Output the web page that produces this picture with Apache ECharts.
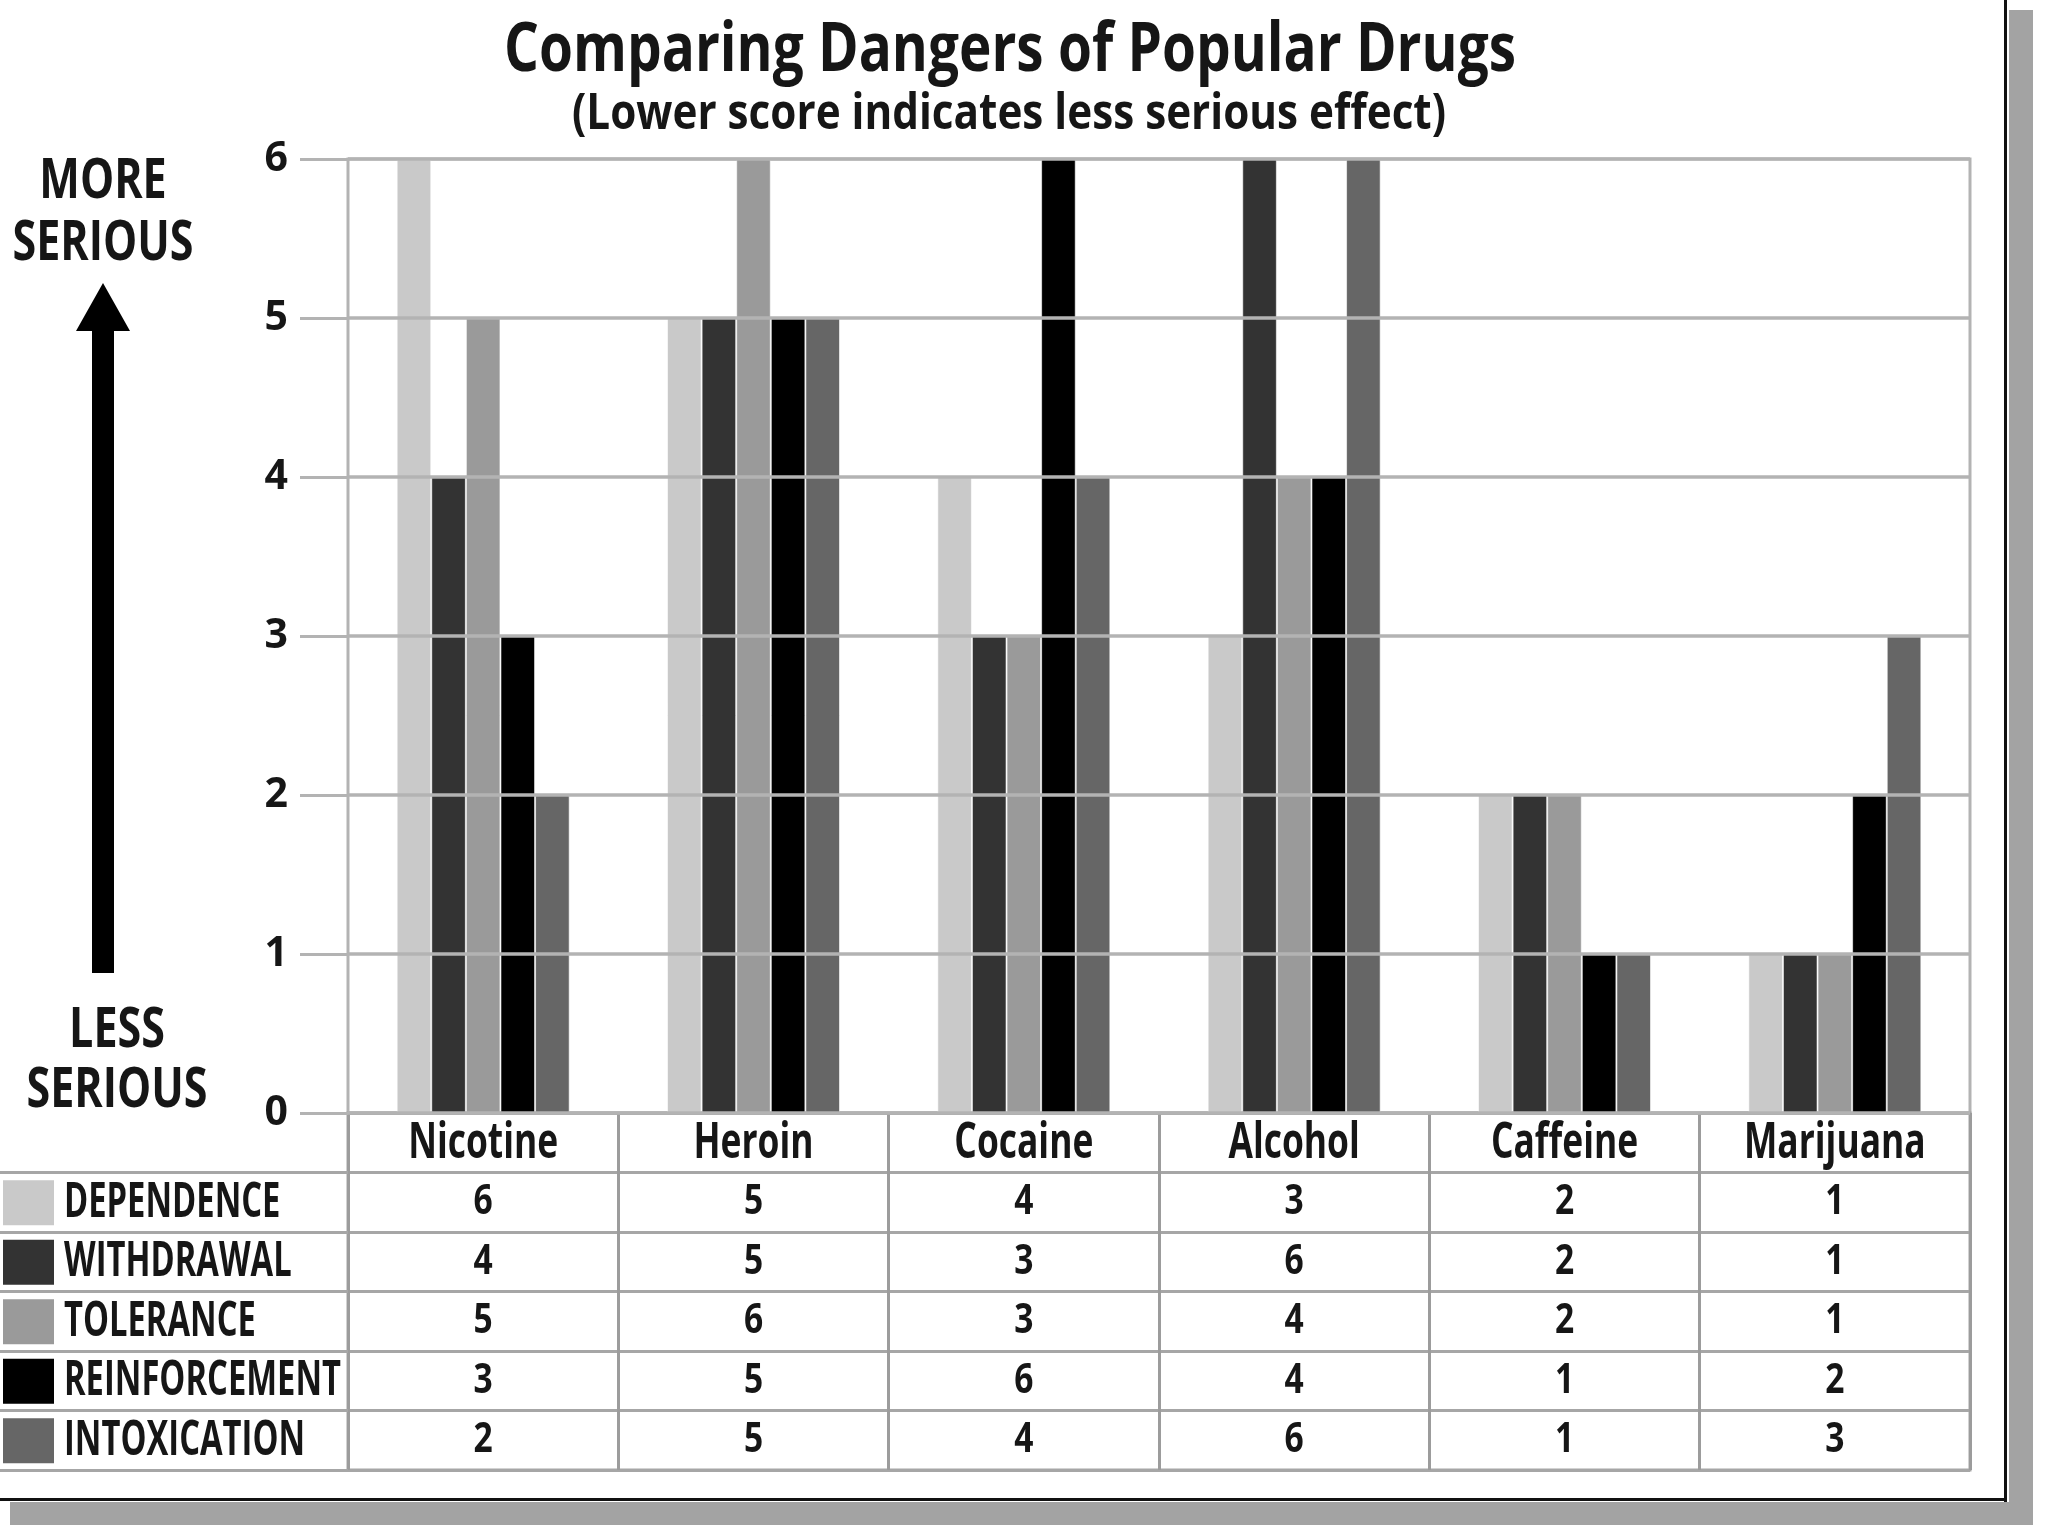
<!DOCTYPE html>
<html>
<head>
<meta charset="utf-8">
<script src="https://cdn.jsdelivr.net/npm/echarts@6/dist/echarts.min.js"></script>
<style>
html,body{margin:0;padding:0;background:#fff;}
#chart{width:2048px;height:1536px;}
</style>
</head>
<body>
<div id="chart"></div>
<script>
// ---- data ----
const categories = ['Nicotine', 'Heroin', 'Cocaine', 'Alcohol', 'Caffeine', 'Marijuana'];
const metricNames = ['DEPENDENCE', 'WITHDRAWAL', 'TOLERANCE', 'REINFORCEMENT', 'INTOXICATION'];
const dependence    = [6, 5, 4, 3, 2, 1];
const withdrawal    = [4, 5, 3, 6, 2, 1];
const tolerance     = [5, 6, 3, 4, 2, 1];
const reinforcement = [3, 5, 6, 4, 1, 2];
const intoxication  = [2, 5, 4, 6, 1, 3];
const seriesValues = [dependence, withdrawal, tolerance, reinforcement, intoxication];
const metricColors = ['#c9c9c9', '#333333', '#9a9a9a', '#000000', '#666666'];
const titleText = 'Comparing Dangers of Popular Drugs';
const subtitleText = '(Lower score indicates less serious effect)';
const moreText = ['MORE', 'SERIOUS'];
const lessText = ['LESS', 'SERIOUS'];

// ---- styling ----
const FAM = "'Open Sans', 'DejaVu Sans', sans-serif";
const INK = '#161616';
const GRID_GRAY = '#b3b3b3';
const TABLE_GRAY = '#a6a6a6';
const TITLE_FONT = 'bold 68px ' + FAM;
const SUB_FONT = 'bold 51px ' + FAM;
const SIDE_FONT = 'bold 56px ' + FAM;
const HEAD_FONT = 'bold 50px ' + FAM;
const CELL_FONT = 'bold 42px ' + FAM;
const LEG_FONT = 'bold 48px ' + FAM;

const mctx = document.createElement('canvas').getContext('2d');
function textWidth(t, font) { mctx.font = font; return mctx.measureText(t).width; }
// horizontal condensing factors so the wide installed font mimics the condensed face
const titleScale = 1012 / textWidth(titleText, TITLE_FONT);
const subScale = 874 / textWidth(subtitleText, SUB_FONT);
const sideScale = 181 / textWidth('SERIOUS', SIDE_FONT);
const headScale = 150 / textWidth('Nicotine', HEAD_FONT);
const legScale = 277 / textWidth('REINFORCEMENT', LEG_FONT);
const cellScale = 0.8;

// ---- table cells built from the arrays ----
const cellData = [];
const cellText = [];
categories.forEach((c, i) => {
  cellData.push([i, 0]); cellText.push(c);
  seriesValues.forEach((arr, j) => {
    cellData.push([i, j + 1]); cellText.push(String(arr[i]));
  });
});
const legendData = metricNames.map((n, j) => [0, j + 1]);

function txt(x, y, text, font, sx) {
  return {
    type: 'text', x: x, y: y, scaleX: sx, silent: true,
    style: { text: text, font: font, fill: INK, textAlign: 'center', textVerticalAlign: 'middle', align: 'center', verticalAlign: 'middle' }
  };
}

const chart = echarts.init(document.getElementById('chart'), null, { renderer: 'canvas' });

const option = {
  backgroundColor: '#ffffff',
  animation: false,
  textStyle: { fontFamily: FAM, color: INK },
  grid: [
    { left: 348, right: 78, top: 159, bottom: 1536 - 1113, show: true, borderColor: GRID_GRAY, borderWidth: 3, backgroundColor: 'transparent' },
    { left: 348, right: 78, top: 1113, bottom: 1536 - 1470, show: true, borderColor: TABLE_GRAY, borderWidth: 3, backgroundColor: 'transparent' }
  ],
  xAxis: [
    {
      type: 'category', gridIndex: 0, data: categories,
      axisLabel: { show: false }, axisTick: { show: false },
      axisLine: { show: false }, splitLine: { show: false }
    },
    {
      type: 'category', gridIndex: 1, data: categories,
      axisLabel: { show: false }, axisTick: { show: false },
      axisLine: { show: false },
      splitLine: { show: true, interval: 0, lineStyle: { color: '#9c9c9c', width: 3 } }
    }
  ],
  yAxis: [
    {
      type: 'value', gridIndex: 0, min: 0, max: 6, interval: 1, z: 3,
      axisLine: { show: false },
      axisTick: { show: true, length: 48, lineStyle: { color: GRID_GRAY, width: 3 } },
      axisLabel: { fontSize: 41, fontWeight: 'bold', color: INK, margin: 60, fontFamily: FAM },
      splitLine: { show: true, lineStyle: { color: GRID_GRAY, width: 3.5 } }
    },
    {
      type: 'category', gridIndex: 1, inverse: true,
      data: [''].concat(metricNames),
      axisLine: { show: false },
      axisTick: {
        show: true, length: 348, lineStyle: { color: TABLE_GRAY, width: 3 },
        interval: function (index) { return index !== 0; }
      },
      splitLine: { show: true, interval: 0, lineStyle: { color: TABLE_GRAY, width: 3 } },
      axisLabel: { show: false }
    }
  ],
  series: metricNames.map((name, k) => ({
    name: name,
    type: 'bar',
    xAxisIndex: 0, yAxisIndex: 0,
    data: seriesValues[k],
    barGap: '0%',
    barCategoryGap: '36%',
    itemStyle: { color: metricColors[k], borderColor: 'rgba(255,255,255,0.6)', borderWidth: 1 }
  })).concat([
    {
      // table cells: header names and values
      type: 'custom',
      xAxisIndex: 1, yAxisIndex: 1,
      silent: true, clip: false,
      data: cellData,
      renderItem: function (params, api) {
        const p = api.coord([api.value(0), api.value(1)]);
        const isHead = api.value(1) === 0;
        return txt(p[0], p[1] + (isHead ? 1 : 0), cellText[params.dataIndex],
          isHead ? HEAD_FONT : CELL_FONT, isHead ? headScale : cellScale);
      }
    },
    {
      // legend column of the table: swatch + metric name
      type: 'custom',
      xAxisIndex: 1, yAxisIndex: 1,
      silent: true, clip: false,
      data: legendData,
      renderItem: function (params, api) {
        const y = api.coord([0, api.value(1)])[1];
        const i = params.dataIndex;
        return {
          type: 'group',
          children: [
            { type: 'rect', shape: { x: 3, y: y - 22, width: 51, height: 45 }, style: { fill: metricColors[i] } },
            {
              type: 'text', x: 64, y: y + 1, scaleX: legScale,
              style: { text: metricNames[i], font: LEG_FONT, fill: INK, textAlign: 'left', textVerticalAlign: 'middle', align: 'left', verticalAlign: 'middle' }
            }
          ]
        };
      }
    }
  ]),
  graphic: [
    // frame shadow and border
    { type: 'rect', shape: { x: 2009, y: 10, width: 24, height: 1515 }, style: { fill: '#a3a3a3' }, z: 1 },
    { type: 'rect', shape: { x: 10, y: 1502, width: 2023, height: 23 }, style: { fill: '#a3a3a3' }, z: 1 },
    { type: 'rect', shape: { x: 2004, y: 0, width: 3, height: 1502 }, style: { fill: '#111' }, z: 2 },
    { type: 'rect', shape: { x: 0, y: 1498, width: 2007, height: 3 }, style: { fill: '#111' }, z: 2 },
    // title
    txt(1010, 52, titleText, TITLE_FONT, titleScale),
    txt(1009, 114, subtitleText, SUB_FONT, subScale),
    // left annotations
    txt(103, 182, moreText[0], SIDE_FONT, sideScale),
    txt(103, 244, moreText[1], SIDE_FONT, sideScale),
    txt(117, 1031, lessText[0], SIDE_FONT, sideScale),
    txt(117, 1091, lessText[1], SIDE_FONT, sideScale),
    { type: 'polygon', shape: { points: [[103, 283], [130, 331], [114, 331], [114, 973], [92, 973], [92, 331], [76, 331]] }, style: { fill: '#000' } }
  ]
};
chart.setOption(option);
</script>
</body>
</html>
